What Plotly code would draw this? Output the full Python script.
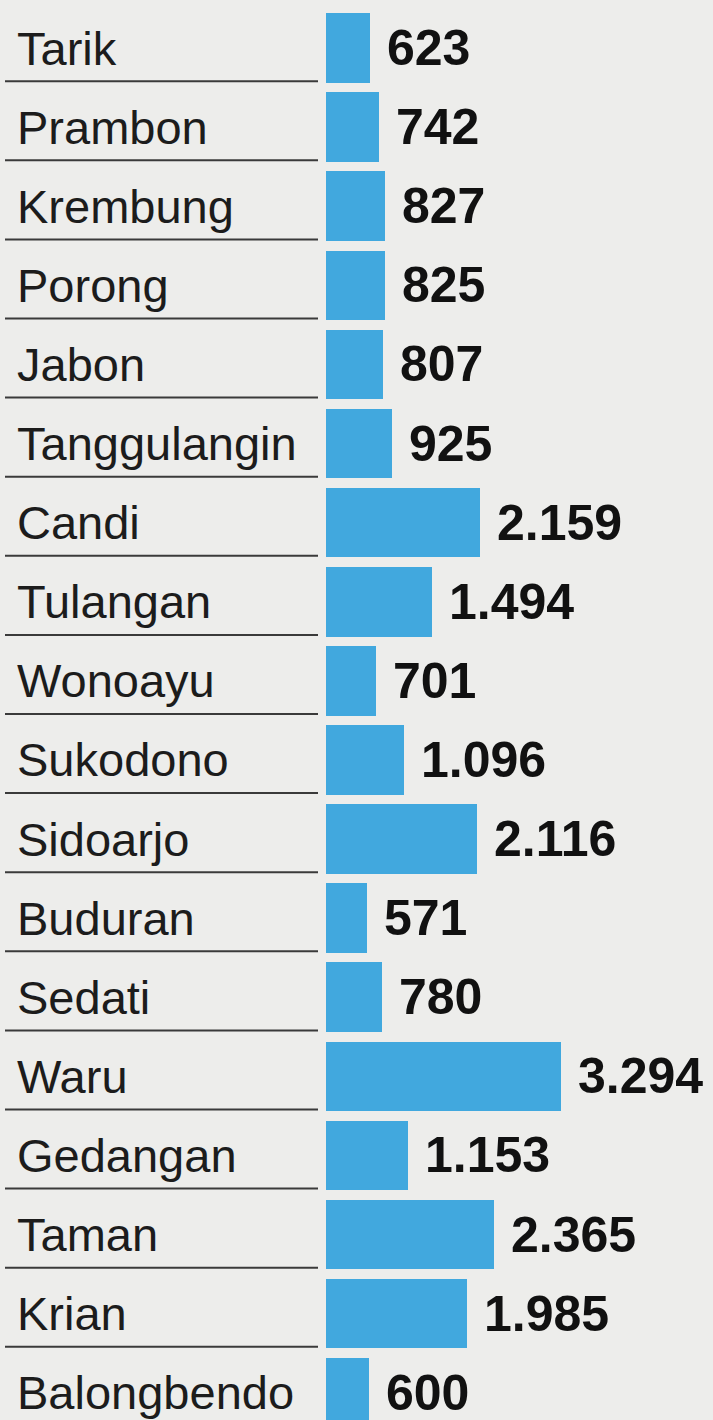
import plotly.graph_objects as go

kecamatan = ["Tarik", "Prambon", "Krembung", "Porong", "Jabon", "Tanggulangin",
             "Candi", "Tulangan", "Wonoayu", "Sukodono", "Sidoarjo", "Buduran",
             "Sedati", "Waru", "Gedangan", "Taman", "Krian", "Balongbendo"]
jumlah = [623, 742, 827, 825, 807, 925, 2159, 1494, 701, 1096, 2116, 571,
          780, 3294, 1153, 2365, 1985, 600]

W, H = 713, 1420
bar_left_px = 326
px_per_unit = 0.0712
row0_px = 48
row_pitch = 79.1

x_min = -bar_left_px / px_per_unit
x_max = (W - bar_left_px) / px_per_unit
y_top = -row0_px / row_pitch
y_bot = (H - row0_px) / row_pitch

idx = list(range(len(kecamatan)))

fig = go.Figure()
fig.add_trace(go.Bar(
    x=jumlah, y=idx, orientation="h", width=0.88,
    marker=dict(color="#41a8de", line=dict(width=0)),
    hoverinfo="skip",
))

def fmt(v):
    return f"{v:,}".replace(",", ".")

annotations = []
for i, (name, v) in enumerate(zip(kecamatan, jumlah)):
    annotations.append(dict(
        x=15 / W, xref="paper", y=i, yref="y", text=name, showarrow=False,
        xanchor="left", yanchor="middle",
        font=dict(family="Liberation Sans, Arial, sans-serif", size=47, color="#1c1c1c"),
    ))
    annotations.append(dict(
        x=v, xref="x", y=i, yref="y", text="<b>" + fmt(v) + "</b>", showarrow=False,
        xanchor="left", yanchor="middle", xshift=15,
        font=dict(family="Liberation Sans, Arial, sans-serif", size=50, color="#111111"),
    ))

shapes = []
for i in range(len(kecamatan) - 1):
    shapes.append(dict(
        type="line", xref="paper", yref="y",
        x0=5 / W, x1=318 / W, y0=i + 0.42, y1=i + 0.42,
        line=dict(color="#3a3a3a", width=2),
    ))

fig.update_layout(
    width=W, height=H,
    margin=dict(l=0, r=0, t=0, b=0),
    paper_bgcolor="#ededeb", plot_bgcolor="#ededeb",
    showlegend=False,
    annotations=annotations, shapes=shapes,
    xaxis=dict(range=[x_min, x_max], visible=False, fixedrange=True),
    yaxis=dict(range=[y_bot, y_top], visible=False, fixedrange=True),
    bargap=0,
)

fig.write_html("out.html")
